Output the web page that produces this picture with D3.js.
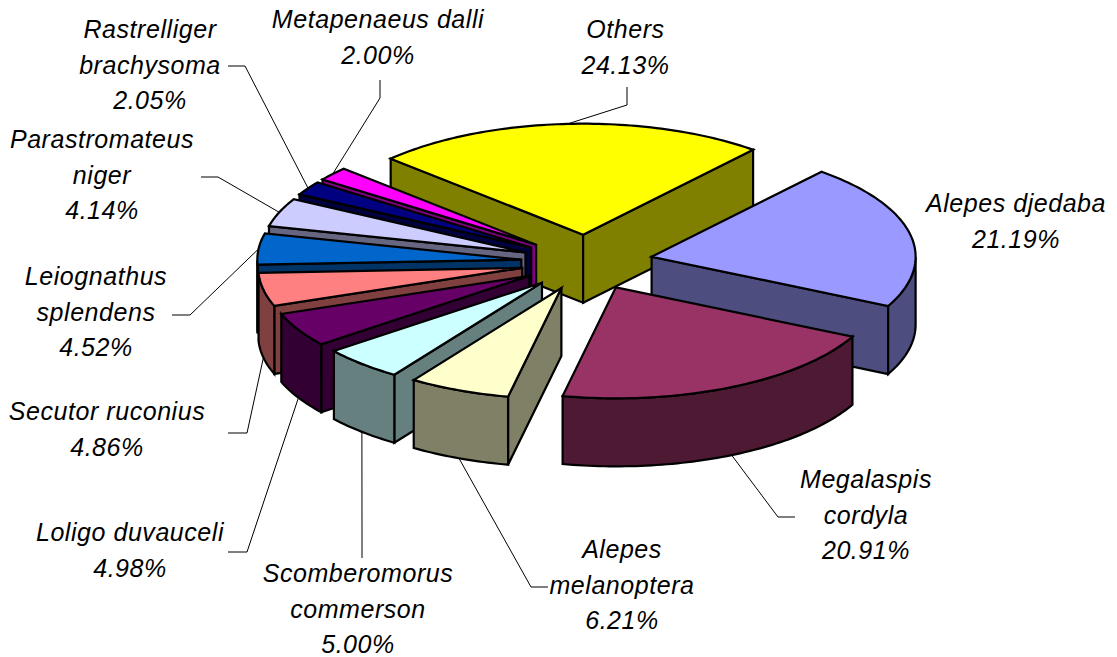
<!DOCTYPE html>
<html>
<head>
<meta charset="utf-8">
<script src="https://cdn.jsdelivr.net/npm/d3@7"></script>
<style>
html,body{margin:0;padding:0;background:#fff;}
svg{display:block;}
text{font-family:"Liberation Sans",Arial,sans-serif;font-style:italic;font-size:25px;letter-spacing:0.55px;fill:#000;}
</style>
</head>
<body>
<script>
// ---- data ----
const categories = ["Others","Alepes djedaba","Megalaspis cordyla","Alepes melanoptera",
  "Scomberomorus commerson","Loligo duvauceli","Secutor ruconius","Leiognathus splendens",
  "Parastromateus niger","Rastrelliger brachysoma","Metapenaeus dalli"];
const values = [24.13,21.19,20.91,6.21,5.00,4.98,4.86,4.52,4.14,2.05,2.00];
const topColors = ["#FFFF00","#9999FF","#993366","#FFFFCC","#CCFFFF","#660066","#FF8080","#0066CC","#CCCCFF","#000080","#FF00FF"];
const sideColors = ["#808000","#4D4D80","#4D1933","#808066","#668080","#330033","#804040","#003366","#666680","#000040","#800080"];

// ---- layout ----
const W = 1117, H = 657;
const centre = {x:587, y:262.4}, radius = {x:264, y:111}, depth = 68;
const explode = 0.25;
const startDeg = -46.8;
const paintOrder = [0,10,9,8,7,6,5,4,3,1,2];
const labelLayout = [
 {x:625.5, y:38, wrap:false, elbow:[627,105], from:[627,87]},
 {x:1016,y:212, wrap:false},
 {x:866, y:488, wrap:true,  elbow:[778,517], from:[795,517], low:true},
 {x:622, y:558, wrap:true,  elbow:[531,587], from:[548,587], low:true},
 {x:358, y:582, wrap:true,  elbow:[362,538], from:[362,558], low:true},
 {x:130, y:541, wrap:false, elbow:[247,552], from:[228,552], low:true},
 {x:107, y:420, wrap:false, elbow:[247,433], from:[228,433], low:true},
 {x:96,  y:285, wrap:true,  elbow:[190,315], from:[172,315]},
 {x:102, y:148, wrap:true,  elbow:[218,177], from:[201,177]},
 {x:150, y:38,  wrap:true,  elbow:[245,66],  from:[228,66]},
 {x:378, y:28,  wrap:false, elbow:[380,98],  from:[380,80]}
];
const linePitch = 35.7;

// ---- projection ----
const unitY = d3.scaleLinear().domain([-1,1]).range([-radius.y, radius.y]);
const unitX = d3.scaleLinear().domain([-1,1]).range([-radius.x, radius.x]);
const pie = d3.pie().sort(null).value(d=>d)
  .startAngle(startDeg*Math.PI/180).endAngle((startDeg+360)*Math.PI/180);
const arcs = pie(values);

function apex(a){
  const m=(a.startAngle+a.endAngle)/2;
  return [centre.x+unitX(Math.sin(m))*explode, centre.y-unitY(Math.cos(m))*explode];
}
function rim(a,ang,dz=0){
  const p=apex(a);
  return [p[0]+unitX(Math.sin(ang)), p[1]-unitY(Math.cos(ang))+dz];
}
function samples(a0,a1){
  const n=Math.max(2,Math.ceil((a1-a0)/0.02));
  return d3.range(n+1).map(i=>a0+(a1-a0)*i/n);
}
const line=d3.line();
const closed=pts=>line(pts)+"Z";

const svg=d3.select("body").append("svg").attr("width",W).attr("height",H);

// ---- leader lines ----
const leaders=svg.append("g").attr("fill","none").attr("stroke","#000").attr("stroke-width",1);

// ---- slices ----
const slices=svg.append("g").attr("stroke","#000").attr("stroke-width",2.2).attr("stroke-linejoin","miter");
paintOrder.forEach(i=>{
  const a=arcs[i], g=slices.append("g").attr("class","slice");
  const p=apex(a), pb=[p[0],p[1]+depth];
  // radial walls: only those that face the viewer
  const walls=[];
  if(Math.sin(a.startAngle)<0) walls.push(a.startAngle);
  if(Math.sin(a.endAngle)>0) walls.push(a.endAngle);
  walls.forEach(ang=>{
    g.append("path").attr("fill",sideColors[i])
     .attr("d",closed([p,rim(a,ang),rim(a,ang,depth),pb]));
  });
  // outer wall: only the part of the rim that faces the viewer
  const norm=t=>((t%(2*Math.PI))+2*Math.PI)%(2*Math.PI);
  const pts=samples(a.startAngle,a.endAngle).filter(t=>{const n=norm(t);return n>=Math.PI/2-1e-6&&n<=3*Math.PI/2+1e-6;});
  if(pts.length>1){
    const top=pts.map(t=>rim(a,t)), bot=pts.map(t=>rim(a,t,depth)).reverse();
    g.append("path").attr("fill",sideColors[i]).attr("d",closed(top.concat(bot)));
  }
  g.append("path").attr("fill",topColors[i])
   .attr("d",closed([p].concat(samples(a.startAngle,a.endAngle).map(t=>rim(a,t)))));
});

// ---- labels ----
const labels=svg.append("g").attr("text-anchor","middle");
categories.forEach((c,i)=>{
  const L=labelLayout[i];
  const parts=(L.wrap?c.split(" "):[c]).concat(values[i].toFixed(2)+"%");
  const t=labels.append("text");
  parts.forEach((s,j)=>t.append("tspan").attr("x",L.x).attr("y",L.y+j*linePitch).text(s));
  if(L.elbow){
    const a=arcs[i], m=(a.startAngle+a.endAngle)/2;
    leaders.append("path").attr("d",line([L.from,L.elbow,rim(a,m,L.low?depth:0)]));
  }
});
</script>
</body>
</html>
